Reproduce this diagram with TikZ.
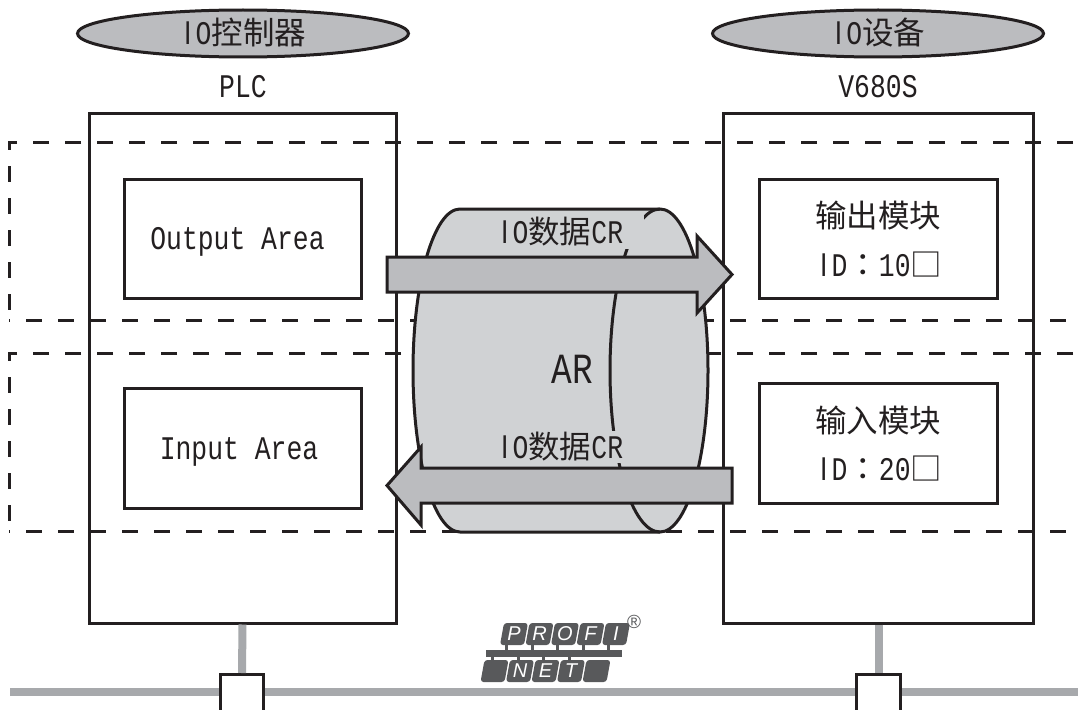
\documentclass[tikz,border=0pt]{standalone}
\usepackage{fontspec}
\usetikzlibrary{shapes.geometric}
\newfontfamily\latf[FakeStretch=0.8]{Liberation Mono}
\newfontfamily\plainf[FakeStretch=0.8]{Liberation Sans}
\newfontfamily\cjf{Noto Sans CJK SC}
\newfontfamily\cjtc{Noto Sans CJK TC}
\newfontfamily\logof{Liberation Sans}
\definecolor{ink}{HTML}{231F20}
\definecolor{cylgray}{HTML}{D0D2D4}
\definecolor{arrgray}{HTML}{BBBCBF}
\definecolor{busgray}{HTML}{A7A9AC}
\definecolor{logogray}{HTML}{58595B}
\newcommand{\LT}[1]{{\fontsize{33}{33}\selectfont\latf #1}}
\newcommand{\PI}{{\fontsize{33}{33}\selectfont\plainf\makebox[15.8pt][c]{I}}}
\newcommand{\BIG}[1]{{\fontsize{43}{43}\selectfont\latf #1}}
\newcommand{\CJ}[1]{{\fontsize{31.5}{33}\selectfont\cjf #1}}
\newcommand{\CC}{{\fontsize{31.5}{33}\selectfont\cjtc ：}}
\tikzset{
  devbox/.style={draw=ink,line width=3pt,fill=white,rectangle,inner sep=0pt},
  dashline/.style={draw=ink,line width=3pt,dash pattern=on 16pt off 16pt},
  role/.style={draw=ink,line width=3pt,fill=arrgray,ellipse,inner sep=0pt,minimum width=331pt,minimum height=47pt},
  label/.style={inner sep=0pt,text=ink},
  blockarrow/.style={draw=ink,line width=3pt,fill=arrgray,miter limit=10},
  cylline/.style={draw=ink,line width=3pt},
  stub/.style={draw=busgray,line width=8pt},
  port/.style={draw=ink,line width=2.6pt,fill=white,rectangle,inner sep=0pt,minimum width=43.5pt,minimum height=50pt},
  tile/.style={fill=logogray,rounded corners=3pt},
  tiletext/.style={inner sep=0pt,text=white,font=\logof\itshape\fontsize{20}{20}\selectfont}
}
\begin{document}
\begin{tikzpicture}[x=1pt,y=-1pt]
\useasboundingbox (0,0) rectangle (1078,709);
\clip (0,0) rectangle (1078,709);
\fill[white] (0,0) rectangle (1078,709);

% outer devices
\node[devbox,minimum width=307pt,minimum height=510pt] (plc) at (242.5,368) {};
\node[devbox,minimum width=310pt,minimum height=510pt] (v680) at (878,368) {};

% dashed frames
\draw[dashline,dash phase=27pt] (1078,142) -- (9,142) -- (9,320);
\draw[dashline,dash phase=15pt] (9,320) -- (1078,320);
\draw[dashline,dash phase=27pt] (1078,353) -- (9,353) -- (9,531);
\draw[dashline,dash phase=15pt] (9,531) -- (1078,531);

% inner boxes
\node[devbox,minimum width=237pt,minimum height=119pt] (outarea) at (242.5,238.5) {};
\node[devbox,minimum width=237pt,minimum height=120pt] (inarea) at (242.5,448) {};
\node[devbox,minimum width=238pt,minimum height=119pt] (outmod) at (878,238.5) {};
\node[devbox,minimum width=238pt,minimum height=120pt] (inmod) at (878,443) {};
\node[label] (outareat) at (237.5,242) {\LT{Output Area}};
\node[label] (inareat) at (239,452) {\LT{Input Area}};
\node[label] (outmodt) at (878,216) {\CJ{输出模块}};
\node[label] (outmodid) at (879,265) {\PI\LT{D}\CC\LT{10}\CJ{□}};
\node[label] (inmodt) at (878,421) {\CJ{输入模块}};
\node[label] (inmodid) at (879,469) {\PI\LT{D}\CC\LT{20}\CJ{□}};

% role ellipses
\node[role] (ctrl) at (243,33.5) {};
\node[role] (dev) at (878,33.5) {};
\node[label] (ctrlt) at (243,33) {\PI\LT{O}\CJ{控制器}};
\node[label] (devt) at (878,33) {\PI\LT{O}\CJ{设备}};
\node[label] (plct) at (243,87) {\LT{PLC}};
\node[label] (v680t) at (878,87) {\LT{V680S}};

% AR cylinder
\draw[cylline,fill=cylgray] (460,209) -- (660,209)
  arc[start angle=-90,end angle=90,x radius=48,y radius=161.5] -- (460,532)
  arc[start angle=90,end angle=270,x radius=47,y radius=161.5] -- cycle;
\draw[cylline] (660,532) arc[start angle=90,end angle=270,x radius=50,y radius=161.5];
\fill[cylgray] (480,214) rectangle (644,249);
\fill[cylgray] (480,431) rectangle (632,463);
\node[label] (crtop) at (560,232) {\PI\LT{O}\CJ{数据}\LT{CR}};
\node[label] (crbot) at (560,447) {\PI\LT{O}\CJ{数据}\LT{CR}};
\node[label] (ar) at (572,369) {\BIG{AR}};

% data arrows
\draw[blockarrow] (387,257) -- (697,257) -- (697,236) -- (732,274.5) -- (697,313) -- (697,292) -- (387,292) -- cycle;
\draw[blockarrow] (732,468) -- (421,468) -- (421,447) -- (387,485.5) -- (421,525) -- (421,503) -- (732,503) -- cycle;

% network
\coordinate (busl) at (10,692);
\coordinate (busr) at (1078,692);
\draw[draw=busgray,line width=8.5pt] (busl) -- (busr);
\node[port,anchor=north] (plcport) at (242,673) {};
\node[port,anchor=north] (v680port) at (878.5,673) {};
\draw[stub] (plc.south) -- (plcport.north);
\draw[stub] (v680.south -| v680port) -- (v680port.north);

% PROFINET logo
\foreach \x/\l/\n in {504/P/lp,529.5/R/lr,555/O/lo,580.5/F/lf,606/I/li}{
  \fill[tile] (\x,623) -- (\x+24,623) -- (\x+20,645) -- (\x-4,645) -- cycle;
  \node[tiletext] (\n) at (\x+10,634) {\l};
}
\fill[logogray] (486,650) rectangle (622,657);
\foreach \x in {507,533,558,584,609}{\fill[logogray] (\x-2,644) rectangle (\x+1,651);}
\foreach \x in {493,519,544,570}{\fill[logogray] (\x-2,656) rectangle (\x+1,661);}
\foreach \x/\l/\n in {484.5/{}/ln0,510/N/ln,535.5/E/le,561/T/lt,586.5/{}/ln4}{
  \fill[tile] (\x,660) -- (\x+24,660) -- (\x+20,682) -- (\x-4,682) -- cycle;
  \node[tiletext] (\n) at (\x+10,671) {\l};
}
\node[inner sep=0pt,text=logogray,font=\logof\fontsize{19}{19}\selectfont] (regmark) at (634,622) {®};
\end{tikzpicture}
\end{document}
